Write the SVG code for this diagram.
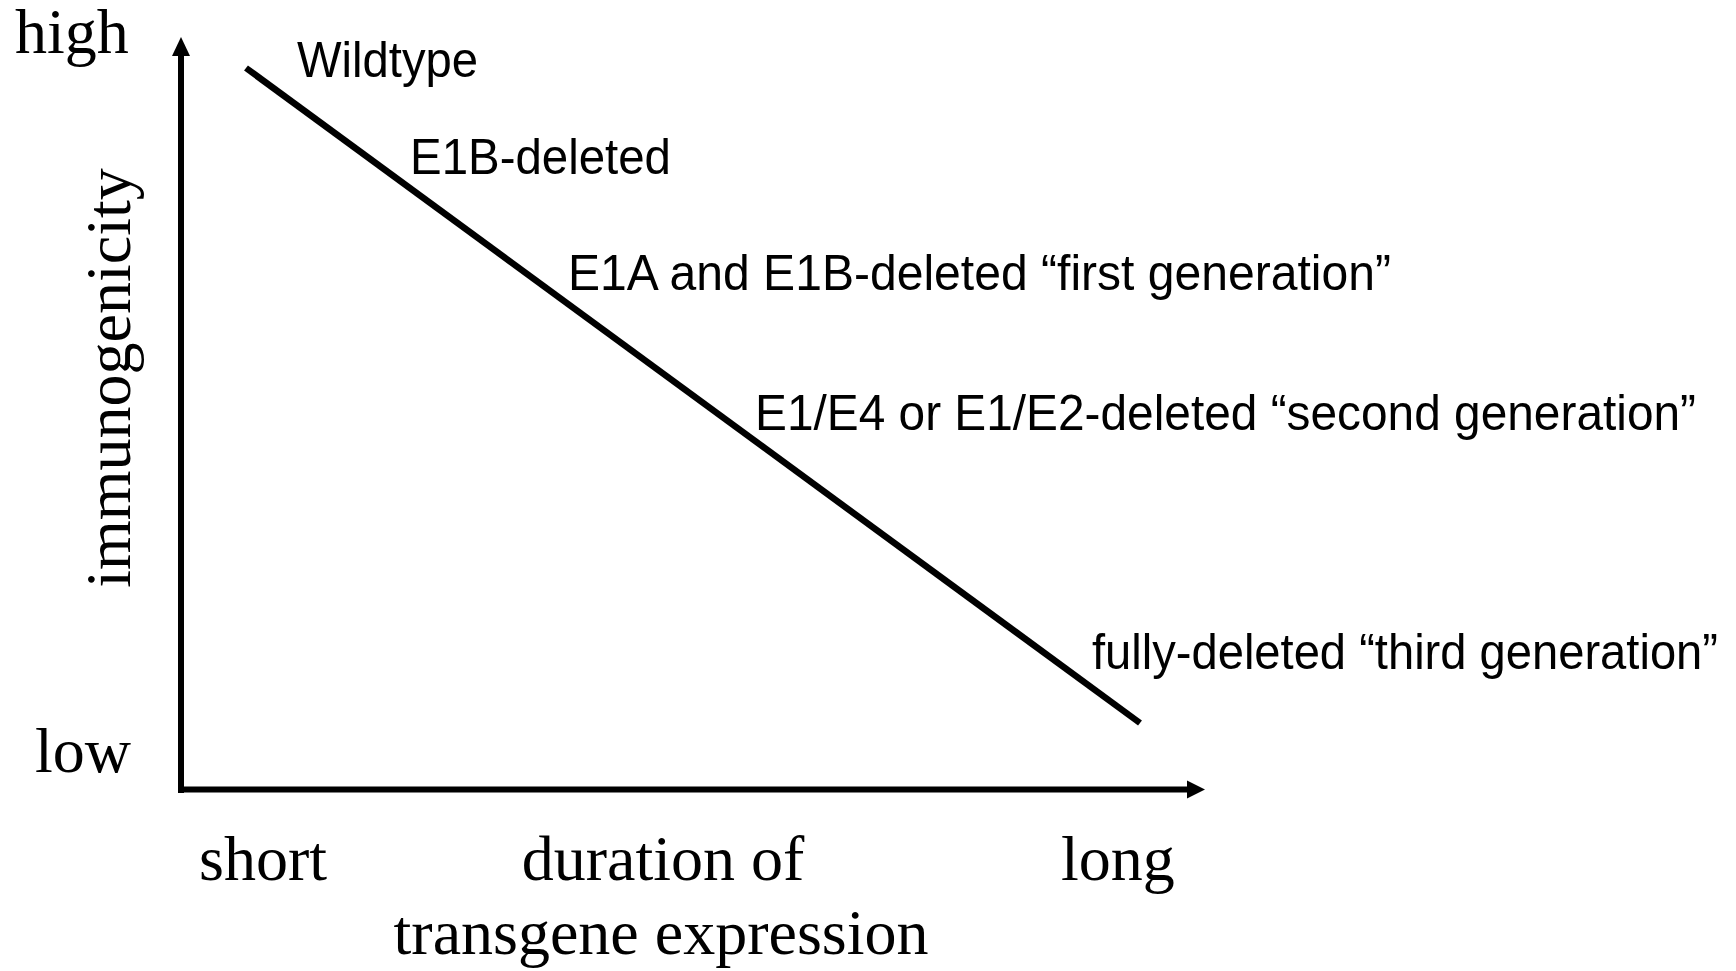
<svg xmlns="http://www.w3.org/2000/svg" width="1736" height="971" viewBox="0 0 1736 971">
<style>
.serif{font-family:"Liberation Serif","Times New Roman",serif;font-size:64px;fill:#000}
.sans{font-family:"Liberation Sans",Arial,sans-serif;font-size:50px;fill:#000}
.axis{stroke:#000;stroke-width:6;fill:none}
</style>
<rect width="1736" height="971" fill="#fff"/>
<g id="axes">
<line class="axis" x1="181" y1="793" x2="181" y2="54"/>
<polygon points="181,37 172,56 190,56" fill="#000"/>
<line class="axis" x1="178" y1="789.5" x2="1189" y2="789.5"/>
<polygon points="1205,789.5 1187,780.5 1187,798.5" fill="#000"/>
</g>
<g id="connectors">
<line x1="246" y1="68" x2="1140" y2="723" stroke="#000" stroke-width="6.5"/>
</g>
<g id="axis-labels">
<text class="serif" x="15" y="53">high</text>
<text class="serif" x="35" y="772">low</text>
<text class="serif" transform="translate(130,378) rotate(-90)" text-anchor="middle">immunogenicity</text>
<text class="serif" x="199" y="880">short</text>
<text class="serif" x="663" y="880" text-anchor="middle">duration of</text>
<text class="serif" x="1061" y="880">long</text>
<text class="serif" x="661" y="954" text-anchor="middle">transgene expression</text>
</g>
<g id="node-wildtype"><text class="sans" x="297" y="77" textLength="181" lengthAdjust="spacingAndGlyphs">Wildtype</text></g>
<g id="node-e1b"><text class="sans" x="410" y="174" textLength="261" lengthAdjust="spacingAndGlyphs">E1B-deleted</text></g>
<g id="node-first"><text class="sans" x="568" y="290" textLength="823" lengthAdjust="spacingAndGlyphs">E1A and E1B-deleted “first generation”</text></g>
<g id="node-second"><text class="sans" x="755" y="430" textLength="941" lengthAdjust="spacingAndGlyphs">E1/E4 or E1/E2-deleted “second generation”</text></g>
<g id="node-third"><text class="sans" x="1092" y="669" textLength="626" lengthAdjust="spacingAndGlyphs">fully-deleted “third generation”</text></g>
</svg>
